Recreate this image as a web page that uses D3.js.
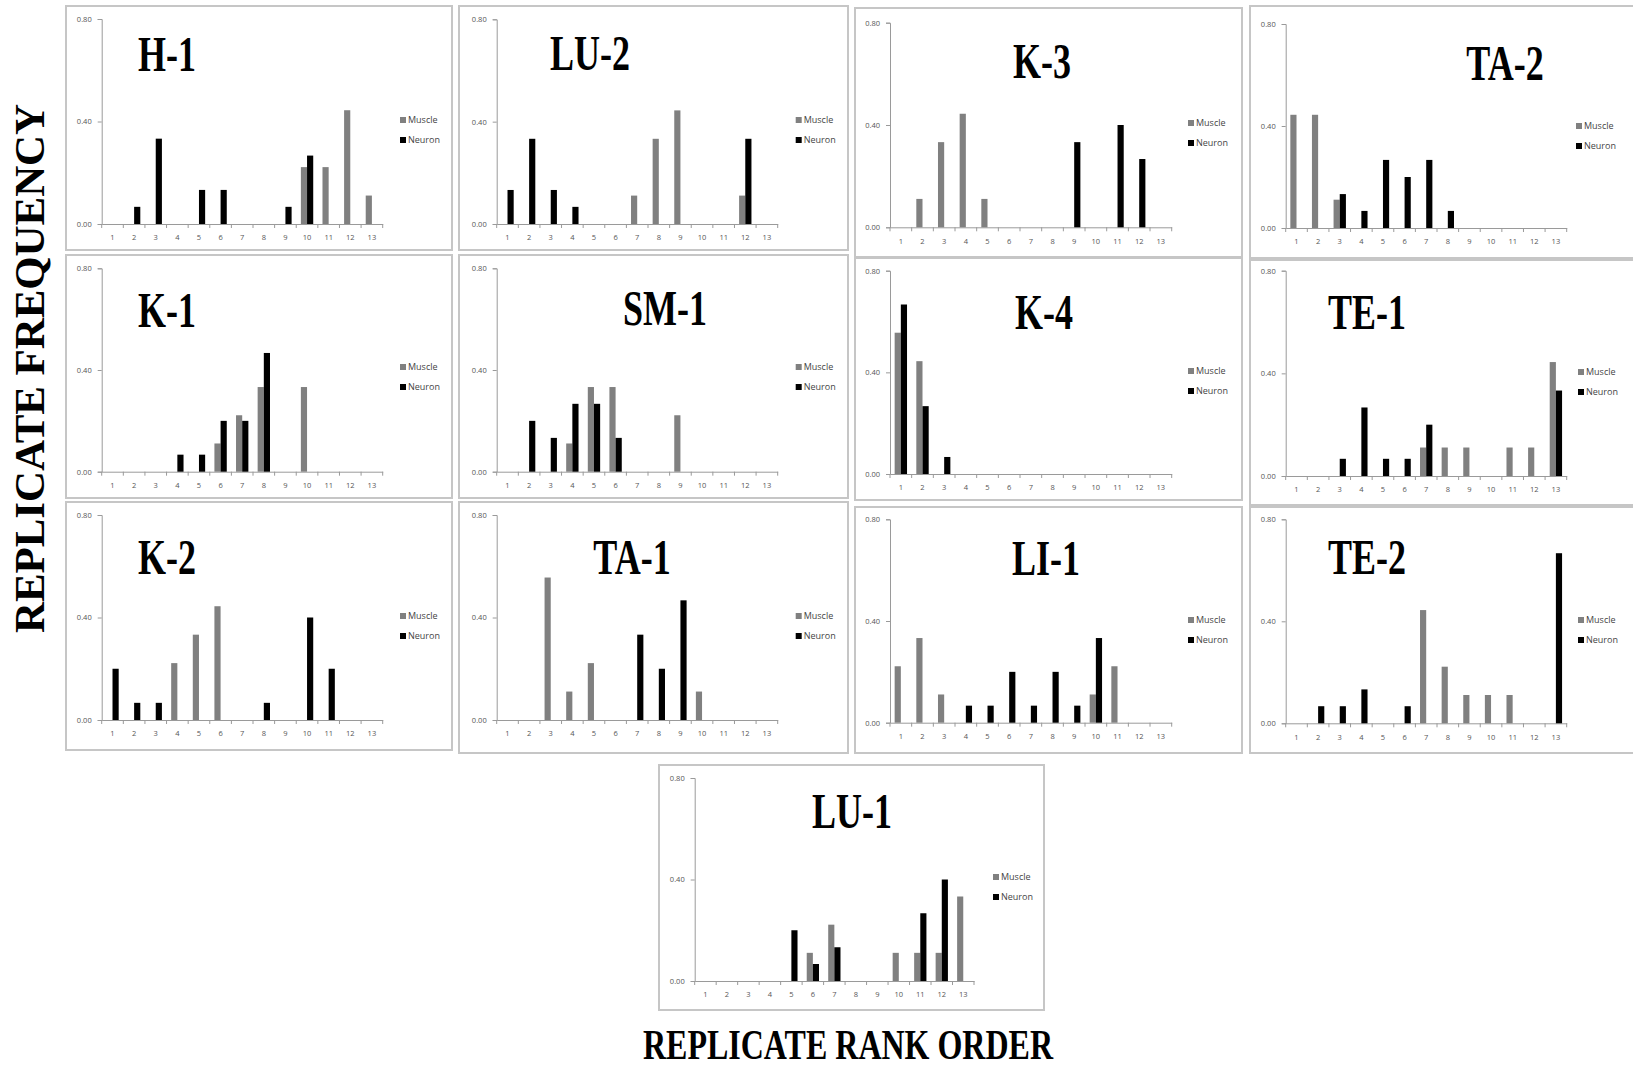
<!DOCTYPE html>
<html>
<head>
<meta charset="utf-8">
<script src="https://cdn.jsdelivr.net/npm/d3@7"></script>
<style>
  html, body { margin: 0; padding: 0; background: #fff; }
  svg { display: block; }
</style>
</head>
<body>
<svg id="chart" width="1633" height="1069"></svg>
<script>
// ---------------- DATA ----------------
const ranks = [1, 2, 3, 4, 5, 6, 7, 8, 9, 10, 11, 12, 13];
const seriesNames = ["Muscle", "Neuron"];
const yTickValues = [0, 0.4, 0.8];
const yTickLabels = ["0.00", "0.40", "0.80"];
const panelNames = ["H-1", "LU-2", "K-3", "TA-2", "K-1", "SM-1", "K-4", "TE-1", "K-2", "TA-1", "LI-1", "TE-2", "LU-1"];
const xAxisTitle = "REPLICATE RANK ORDER";
const yAxisTitle = "REPLICATE FREQUENCY";

// replicate frequency per rank (1..13), one row per panel, same order as panelNames
const muscleValues = [
  [0, 0, 0, 0, 0, 0, 0, 0, 0, 0.222, 0.222, 0.444, 0.111],      // H-1
  [0, 0, 0, 0, 0, 0, 0.111, 0.333, 0.444, 0, 0, 0.111, 0],      // LU-2
  [0, 0.111, 0.333, 0.444, 0.111, 0, 0, 0, 0, 0, 0, 0, 0],      // K-3
  [0.444, 0.444, 0.111, 0, 0, 0, 0, 0, 0, 0, 0, 0, 0],          // TA-2
  [0, 0, 0, 0, 0, 0.111, 0.222, 0.333, 0, 0.333, 0, 0, 0],      // K-1
  [0, 0, 0, 0.111, 0.333, 0.333, 0, 0, 0.222, 0, 0, 0, 0],      // SM-1
  [0.556, 0.444, 0, 0, 0, 0, 0, 0, 0, 0, 0, 0, 0],              // K-4
  [0, 0, 0, 0, 0, 0, 0.111, 0.111, 0.111, 0, 0.111, 0.111, 0.444], // TE-1
  [0, 0, 0, 0.222, 0.333, 0.444, 0, 0, 0, 0, 0, 0, 0],          // K-2
  [0, 0, 0.556, 0.111, 0.222, 0, 0, 0, 0, 0.111, 0, 0, 0],      // TA-1
  [0.222, 0.333, 0.111, 0, 0, 0, 0, 0, 0, 0.111, 0.222, 0, 0],  // LI-1
  [0, 0, 0, 0, 0, 0, 0.444, 0.222, 0.111, 0.111, 0.111, 0, 0],  // TE-2
  [0, 0, 0, 0, 0, 0.111, 0.222, 0, 0, 0.111, 0.111, 0.111, 0.333] // LU-1
];
const neuronValues = [
  [0, 0.067, 0.333, 0, 0.133, 0.133, 0, 0, 0.067, 0.267, 0, 0, 0],   // H-1
  [0.133, 0.333, 0.133, 0.067, 0, 0, 0, 0, 0, 0, 0, 0.333, 0],       // LU-2
  [0, 0, 0, 0, 0, 0, 0, 0, 0.333, 0, 0.4, 0.267, 0],                 // K-3
  [0, 0, 0.133, 0.067, 0.267, 0.2, 0.267, 0.067, 0, 0, 0, 0, 0],     // TA-2
  [0, 0, 0, 0.067, 0.067, 0.2, 0.2, 0.467, 0, 0, 0, 0, 0],           // K-1
  [0, 0.2, 0.133, 0.267, 0.267, 0.133, 0, 0, 0, 0, 0, 0, 0],         // SM-1
  [0.667, 0.267, 0.067, 0, 0, 0, 0, 0, 0, 0, 0, 0, 0],               // K-4
  [0, 0, 0.067, 0.267, 0.067, 0.067, 0.2, 0, 0, 0, 0, 0, 0.333],     // TE-1
  [0.2, 0.067, 0.067, 0, 0, 0, 0, 0.067, 0, 0.4, 0.2, 0, 0],         // K-2
  [0, 0, 0, 0, 0, 0, 0.333, 0.2, 0.467, 0, 0, 0, 0],                 // TA-1
  [0, 0, 0, 0.067, 0.067, 0.2, 0.067, 0.2, 0.067, 0.333, 0, 0, 0],   // LI-1
  [0, 0.067, 0.067, 0.133, 0, 0.067, 0, 0, 0, 0, 0, 0, 0.667],       // TE-2
  [0, 0, 0, 0, 0.2, 0.067, 0.133, 0, 0, 0, 0.267, 0.4, 0]            // LU-1
];

// ---------------- LAYOUT (pixel geometry of each pasted panel) ----------------
// box: [x0, y0, x1, y1]; plot: [xLeft, xRight, yTop(0.8), yBase(0)]; title: [cx, baseline]; legend: [x, yMuscleRow]
const layout = [
  { box: [66, 6, 452, 250],    plot: [101.7, 382.7, 19, 224],     title: [167, 71],    legend: [400, 120] },
  { box: [459, 6, 848, 250],   plot: [496.7, 777.7, 19.3, 224],   title: [590, 70],    legend: [795.7, 120] },
  { box: [855, 8, 1242, 257],  plot: [890, 1171.7, 22.7, 227.3],  title: [1042, 78],   legend: [1188, 123] },
  { box: [1250, 6, 1640, 258], plot: [1285.7, 1566.7, 24, 228],   title: [1505, 80],   legend: [1576, 126] },
  { box: [66, 255, 452, 498],  plot: [101.7, 382.7, 268.3, 471.7], title: [167, 327],  legend: [400, 367] },
  { box: [459, 255, 848, 498], plot: [496.7, 777.7, 268.3, 471.7], title: [665, 325],  legend: [795.7, 367] },
  { box: [855, 258, 1242, 500], plot: [890, 1171.7, 270.7, 474],  title: [1044, 329],  legend: [1188, 371] },
  { box: [1250, 260, 1640, 505], plot: [1285.7, 1566.7, 270.7, 476], title: [1367, 329], legend: [1578, 372] },
  { box: [66, 502, 452, 750],  plot: [101.7, 382.7, 515, 720],    title: [167, 574],   legend: [400, 616] },
  { box: [459, 502, 848, 753], plot: [496.7, 777.7, 515, 720],    title: [632, 574],   legend: [795.7, 616] },
  { box: [855, 507, 1242, 753], plot: [890, 1171.7, 519.3, 722.7], title: [1046, 575], legend: [1188, 620] },
  { box: [1250, 507, 1640, 753], plot: [1285.7, 1566.7, 519.3, 723.3], title: [1367, 574], legend: [1578, 620] },
  { box: [659, 765, 1044, 1010], plot: [694.7, 974, 778, 981],    title: [852, 828],   legend: [993, 877] }
];

const colors = { Muscle: "#808080", Neuron: "#000000" };

// ---------------- DRAW ----------------
const svg = d3.select("#chart");
svg.append("rect").attr("width", 1633).attr("height", 1069).attr("fill", "#fff");

panelNames.forEach((name, i) => {
  const L = layout[i];
  const g = svg.append("g").attr("class", "panel");

  // panel frame
  g.append("rect")
    .attr("x", L.box[0]).attr("y", L.box[1])
    .attr("width", L.box[2] - L.box[0]).attr("height", L.box[3] - L.box[1])
    .attr("fill", "#fff").attr("stroke", "#c6c6c6").attr("stroke-width", 2);

  const x = d3.scaleBand().domain(ranks).range([L.plot[0], L.plot[1]]).padding(0);
  const xs = d3.scaleBand().domain(seriesNames).range([0, x.bandwidth()])
    .paddingInner(0).paddingOuter(0.75);
  const y = d3.scaleLinear().domain([0, 0.8]).range([L.plot[3], L.plot[2]]);

  // y axis
  const yAxis = d3.axisLeft(y).tickValues(yTickValues)
    .tickFormat((d, k) => yTickLabels[k]).tickSize(4).tickPadding(6);
  const yg = g.append("g").attr("transform", `translate(${L.plot[0]},0)`).call(yAxis);
  yg.select(".domain").attr("stroke", "#9a9a9a");
  yg.selectAll(".tick line").attr("stroke", "#9a9a9a");
  yg.selectAll(".tick text").attr("fill", "#555").attr("font-size", 7.5)
    .attr("font-family", "'Open Sans', 'DejaVu Sans', sans-serif");

  // x axis (labels at category centres, ticks between categories)
  const xAxis = d3.axisBottom(x).tickSize(0).tickPadding(11);
  const xg = g.append("g").attr("transform", `translate(0,${L.plot[3]})`).call(xAxis);
  xg.select(".domain").attr("stroke", "#9a9a9a");
  xg.selectAll(".tick text").attr("fill", "#555").attr("font-size", 7.5)
    .attr("font-family", "'Open Sans', 'DejaVu Sans', sans-serif");
  const boundaries = ranks.map(r => x(r)).concat([x(ranks[ranks.length - 1]) + x.bandwidth()]);
  xg.selectAll("line.btick").data(boundaries).enter().append("line")
    .attr("class", "btick")
    .attr("x1", d => d).attr("x2", d => d).attr("y1", 0).attr("y2", 4)
    .attr("stroke", "#9a9a9a");

  // bars
  const rows = ranks.map((r, k) => ({ rank: r, Muscle: muscleValues[i][k], Neuron: neuronValues[i][k] }));
  seriesNames.forEach(s => {
    g.append("g").selectAll("rect").data(rows.filter(d => d[s] > 0)).enter().append("rect")
      .attr("x", d => x(d.rank) + xs(s))
      .attr("width", xs.bandwidth())
      .attr("y", d => y(d[s]))
      .attr("height", d => y(0) - y(d[s]))
      .attr("fill", colors[s]);
  });

  // legend
  seriesNames.forEach((s, k) => {
    const ly = L.legend[1] + k * 20;
    g.append("rect").attr("x", L.legend[0]).attr("y", ly - 3)
      .attr("width", 6).attr("height", 6).attr("fill", colors[s]);
    g.append("text").attr("x", L.legend[0] + 8).attr("y", ly + 3)
      .attr("font-size", 9).attr("fill", "#444")
      .attr("font-family", "'Open Sans', 'DejaVu Sans', sans-serif")
      .text(s);
  });

  // panel title
  g.append("text")
    .attr("transform", `translate(${L.title[0]},${L.title[1]}) scale(1,1.42)`)
    .attr("text-anchor", "middle")
    .attr("font-family", "'Liberation Serif', 'Times New Roman', serif")
    .attr("font-weight", "bold").attr("font-size", 36).attr("fill", "#000")
    .text(name);
});

// global axis titles
svg.append("text")
  .attr("transform", "translate(848,1059) scale(1,1.3)")
  .attr("text-anchor", "middle")
  .attr("font-family", "'Liberation Serif', 'Times New Roman', serif")
  .attr("font-weight", "bold").attr("font-size", 32).attr("fill", "#000")
  .text(xAxisTitle);

svg.append("text")
  .attr("transform", "translate(43.5,368.5) rotate(-90)")
  .attr("text-anchor", "middle")
  .attr("font-family", "'Liberation Serif', 'Times New Roman', serif")
  .attr("font-weight", "bold").attr("font-size", 42).attr("fill", "#000")
  .attr("textLength", 529).attr("lengthAdjust", "spacingAndGlyphs")
  .text(yAxisTitle);
</script>
</body>
</html>
